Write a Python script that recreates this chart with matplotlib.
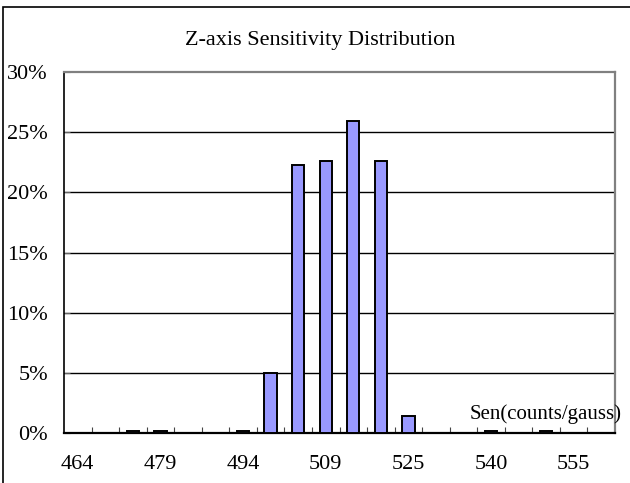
import matplotlib
matplotlib.use("Agg")
import matplotlib.pyplot as plt
from matplotlib.patches import Rectangle
from matplotlib.ticker import FuncFormatter

plt.rcParams['font.family'] = ['Liberation Serif', 'DejaVu Serif']

# sensitivity bins (counts/gauss), only every 3rd one is labelled
bins = [464, 469, 474, 479, 484, 489, 494, 499, 504, 509,
        514, 519, 525, 530, 535, 540, 545, 550, 555, 560]
share = [0, 0, 0.15, 0.15, 0, 0, 0.15, 5.0, 22.3, 22.6,
         25.9, 22.6, 1.4, 0, 0, 0.15, 0, 0.15, 0, 0]
yticks = [0, 5, 10, 15, 20, 25, 30]
title = "Z-axis Sensitivity Distribution"
xname = "Sen(counts/gauss)"

fig = plt.figure(figsize=(6.3, 4.83), dpi=100)
ax = fig.add_axes([64/630, 50/483, 551/630, 361/483])

pos = list(range(len(bins)))
vals = [v if v > 0 else float('nan') for v in share]
ax.bar(pos, vals, width=0.45, color='#9999ff', edgecolor='black', linewidth=1.4, zorder=3)

ax.set_xlim(-0.5, len(bins) - 0.5)
ax.set_ylim(0, 30)

# x labels on every 3rd bin, small ticks at bin borders
ax.set_xticks(pos[::3])
ax.set_xticklabels([str(b) for b in bins[::3]], fontsize=16)
ax.set_xticks([p + 0.5 for p in pos[:-1]], minor=True)
ax.tick_params(axis='x', which='major', length=0, pad=16)
ax.tick_params(axis='x', which='minor', direction='in', length=4, width=0.8, color='#444444')

ax.set_yticks(yticks)
ax.yaxis.set_major_formatter(FuncFormatter(lambda v, p: "%d%%" % v))
ax.tick_params(axis='y', direction='in', length=4, width=0.8, color='#666666',
               labelsize=16, pad=11.5)

for y in yticks[1:-1]:
    ax.axhline(y, color='black', linewidth=1.0, zorder=1)

ax.spines['left'].set_color('black')
ax.spines['bottom'].set_color('black')
ax.spines['bottom'].set_linewidth(1.6)
ax.spines['left'].set_linewidth(1.2)
ax.spines['top'].set_color('#808080')
ax.spines['right'].set_color('#808080')
ax.spines['top'].set_linewidth(1.6)
ax.spines['right'].set_linewidth(1.6)

fig.text(320/630, 1 - 40/483, title, ha='center', va='center', fontsize=16)
fig.text(622/630, 1 - 414/483, xname, ha='right', va='center', fontsize=15)

# chart area border (cut off at the right and bottom)
fig.patches.append(Rectangle((3/630, -0.1), 1.2, 1.1 - 7/483, transform=fig.transFigure,
                             fill=False, edgecolor='black', linewidth=1.2))

fig.savefig("out.png", dpi=100)
